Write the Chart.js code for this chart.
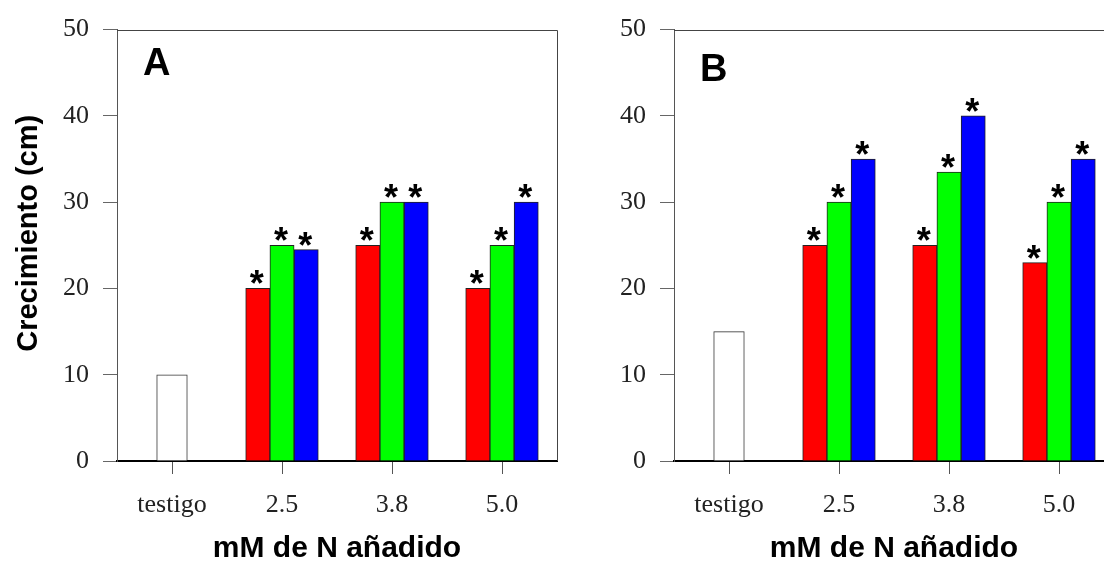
<!DOCTYPE html>
<html lang="es">
<head>
<meta charset="utf-8">
<title>Crecimiento según mM de N añadido</title>
<script src="https://cdn.jsdelivr.net/npm/chart.js@4.4.1/dist/chart.umd.min.js"></script>
<style>
  html, body { margin: 0; padding: 0; background: #fff; }
  body { width: 1104px; height: 565px; overflow: hidden; position: relative; }
  canvas { position: absolute; top: 0; }
  #panelA { left: 0; }
  #panelB { left: 557px; }
</style>
</head>
<body>
<canvas id="panelA" width="560" height="565"></canvas>
<canvas id="panelB" width="560" height="565"></canvas>
<script>
const categorias = ['testigo', '2.5', '3.8', '5.0'];
const yTicks = [0, 10, 20, 30, 40, 50];

// Panel A
const testigoA = [10, null, null, null];
const rojoA = [null, 20, 25, 20];
const verdeA = [null, 25, 30, 25];
const azulA = [null, 24.5, 30, 30];

// Panel B
const testigoB = [15, null, null, null];
const rojoB = [null, 25, 25, 23];
const verdeB = [null, 30, 33.5, 30];
const azulB = [null, 35, 40, 35];

const tituloEjeY = 'Crecimiento (cm)';

const fuenteEjes = '"Liberation Serif", "Times New Roman", serif';
const fuenteTitulos = '"Liberation Sans", Arial, sans-serif';

// marco superior/derecho, letra del panel y título vertical (algo por encima del centro)
const marcoPlugin = {
    id: 'marco',
    afterDraw(chart, args, opts) {
        const { ctx, chartArea: a } = chart;
        ctx.save();
        ctx.strokeStyle = '#444';
        ctx.lineWidth = 1;
        ctx.beginPath();
        ctx.moveTo(a.left, Math.round(a.top) + 0.5);
        ctx.lineTo(Math.round(a.right) + 0.5, Math.round(a.top) + 0.5);
        ctx.lineTo(Math.round(a.right) + 0.5, a.bottom);
        ctx.stroke();

        ctx.fillStyle = '#000';
        ctx.font = 'bold 38px ' + fuenteTitulos;
        ctx.textAlign = 'left';
        ctx.textBaseline = 'alphabetic';
        ctx.fillText(opts.letra, a.left + 26, a.top + opts.letraY);

        if (opts.conTituloY) {
            ctx.font = 'bold 29px ' + fuenteTitulos;
            ctx.textAlign = 'center';
            ctx.translate(37, (a.top + a.bottom) / 2 - 12);
            ctx.rotate(-Math.PI / 2);
            ctx.fillText(tituloEjeY, 0, 0);
        }
        ctx.restore();
    }
};

// asterisco sobre cada barra con diferencia significativa
const asteriscoPlugin = {
    id: 'asteriscos',
    afterDatasetsDraw(chart) {
        const ctx = chart.ctx;
        ctx.save();
        ctx.font = 'bold 36px ' + fuenteTitulos;
        ctx.textAlign = 'center';
        ctx.textBaseline = 'alphabetic';
        ctx.fillStyle = '#000';
        chart.data.datasets.forEach((ds, i) => {
            if (!ds.asterisco) return;
            chart.getDatasetMeta(i).data.forEach((bar, j) => {
                if (ds.data[j] == null) return;
                ctx.fillText('*', bar.x - 1, bar.y + 8);
            });
        });
        ctx.restore();
    }
};

function crearPanel(id, letra, letraY, testigo, rojo, verde, azul, conTituloY) {
    const ctx = document.getElementById(id).getContext('2d');
    return new Chart(ctx, {
        type: 'bar',
        data: {
            labels: categorias,
            datasets: [
                { label: 'testigo', data: testigo, backgroundColor: '#ffffff', borderColor: '#333', barThickness: 30.6 },
                { label: 'rojo', data: rojo, backgroundColor: '#ff0000', borderColor: '#222', barThickness: 24.2, asterisco: true },
                { label: 'verde', data: verde, backgroundColor: '#00ff00', borderColor: '#222', barThickness: 24.2, asterisco: true },
                { label: 'azul', data: azul, backgroundColor: '#0000ff', borderColor: '#222', barThickness: 24.2, asterisco: true }
            ]
        },
        options: {
            responsive: false,
            animation: false,
            datasets: {
                bar: { skipNull: true, borderWidth: 1, borderSkipped: 'start' }
            },
            layout: { padding: { top: 25, right: 3, left: 0, bottom: 0 } },
            plugins: {
                legend: { display: false },
                tooltip: { enabled: false },
                marco: { letra: letra, letraY: letraY, conTituloY: conTituloY }
            },
            scales: {
                x: {
                    offset: true,
                    grid: { offset: false, drawOnChartArea: false, drawTicks: true, tickLength: 13, color: '#555' },
                    border: { display: true, color: '#000', width: 2 },
                    ticks: { color: '#222', font: { family: fuenteEjes, size: 26 }, padding: 16, maxRotation: 0 },
                    title: {
                        display: true,
                        text: 'mM de N añadido',
                        color: '#000',
                        font: { family: fuenteTitulos, size: 30, weight: 'bold' },
                        padding: { top: 0, bottom: -2 }
                    },
                    afterFit(scale) { scale.height = 104; }
                },
                y: {
                    min: 0,
                    max: 50,
                    afterBuildTicks(scale) { scale.ticks = yTicks.map(v => ({ value: v })); },
                    grid: { drawOnChartArea: false, drawTicks: true, tickLength: 14, color: '#666' },
                    border: { display: true, color: '#555', width: 1 },
                    ticks: { color: '#222', font: { family: fuenteEjes, size: 26 }, padding: 14 },
                    afterFit(scale) { scale.width = 117; }
                }
            }
        },
        plugins: [marcoPlugin, asteriscoPlugin]
    });
}

crearPanel('panelA', 'A', 45, testigoA, rojoA, verdeA, azulA, true);
crearPanel('panelB', 'B', 51, testigoB, rojoB, verdeB, azulB, false);
</script>
</body>
</html>
